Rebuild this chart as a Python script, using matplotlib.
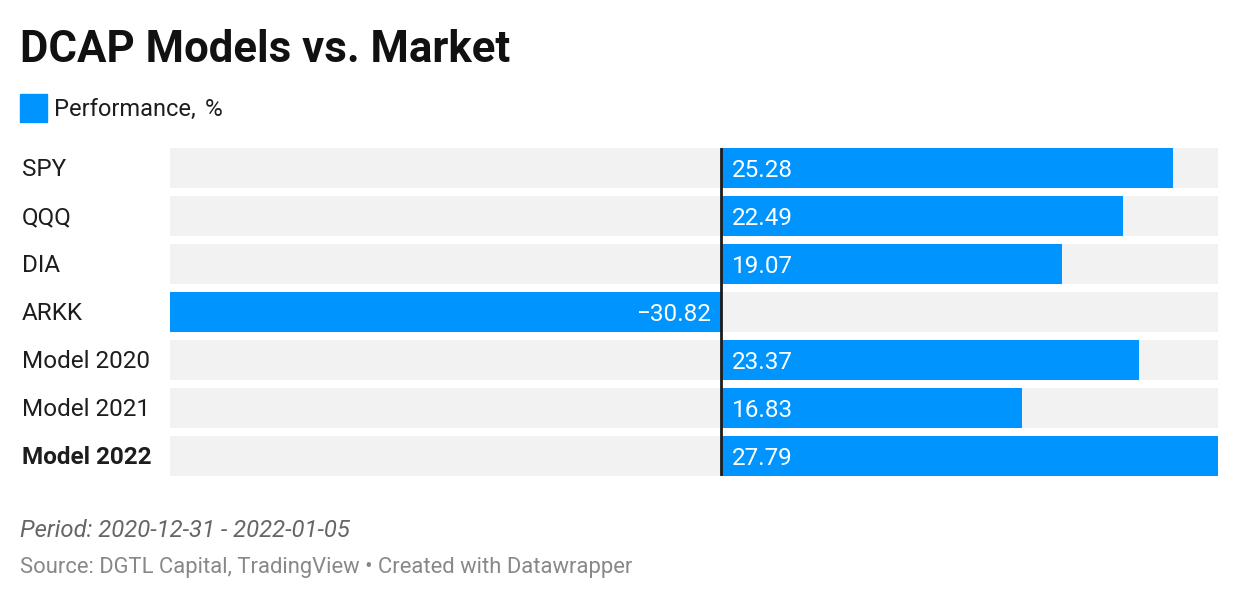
import matplotlib.pyplot as plt
from matplotlib.patches import Rectangle

plt.rcParams['font.family'] = ['Roboto', 'DejaVu Sans']

categories = ['SPY', 'QQQ', 'DIA', 'ARKK', 'Model 2020', 'Model 2021', 'Model 2022']
performance = [25.28, 22.49, 19.07, -30.82, 23.37, 16.83, 27.79]
value_labels = ['25.28', '22.49', '19.07', '\u221230.82', '23.37', '16.83', '27.79']

W, H = 1240, 600
blue = '#0094ff'
fig = plt.figure(figsize=(W / 100, H / 100), dpi=100)

# axes placed in pixel terms: bars run 170..1218 px, rows 148..476 px
ax = fig.add_axes([170 / W, 1 - 476 / H, (1218 - 170) / W, (476 - 148) / H])
lo, hi = min(performance), max(performance)
bh = 40 / 48
pos = list(range(len(categories)))

ax.barh(pos, [hi - lo] * len(pos), left=lo, height=bh, color='#f2f2f2', zorder=1)
ax.barh(pos, performance, height=bh, color=blue, zorder=2)
ax.axvline(0, color='#1d1d1d', lw=2, zorder=3)

ax.set_xlim(lo, hi)
ax.set_ylim(len(pos) - 1 + bh / 2, -bh / 2)
ax.axis('off')

for i, (v, lab) in enumerate(zip(performance, value_labels)):
    if v >= 0:
        ax.annotate(lab, (0, i), xytext=(8, -1.5), textcoords='offset points',
                    ha='left', va='center', color='white', fontsize=17.5, zorder=4)
    else:
        ax.annotate(lab, (0, i), xytext=(-7, -1.5), textcoords='offset points',
                    ha='right', va='center', color='white', fontsize=17.5, zorder=4)

for i, name in enumerate(categories):
    y = 1 - (148 + 22 + 48 * i) / H
    fig.text(22 / W, y, name, ha='left', va='center', fontsize=17.5, color='#1d1d1d',
             fontweight='bold' if name == 'Model 2022' else 'normal')

fig.text(20 / W, 1 - 62 / H, 'DCAP Models vs. Market', fontsize=31.5, fontweight='bold',
         color='#111111', ha='left', va='baseline')

fig.patches.append(Rectangle((20 / W, 1 - 122 / H), 27 / W, 28 / H,
                             transform=fig.transFigure, color=blue))
fig.text(54 / W, 1 - 116 / H, 'Performance,', fontsize=17, color='#1d1d1d',
         ha='left', va='baseline')
fig.text(205 / W, 1 - 116 / H, '%', fontsize=17.5, color='#1d1d1d',
         ha='left', va='baseline')

fig.text(20 / W, 1 - 537 / H, 'Period: 2020-12-31 - 2022-01-05', fontsize=17.2,
         style='italic', color='#666666', ha='left', va='baseline')
fig.text(20 / W, 1 - 573 / H, 'Source: DGTL Capital, TradingView \u2022 Created with Datawrapper',
         fontsize=15.8, color='#888888', ha='left', va='baseline')

fig.savefig('out.png', dpi=100, facecolor='white')
